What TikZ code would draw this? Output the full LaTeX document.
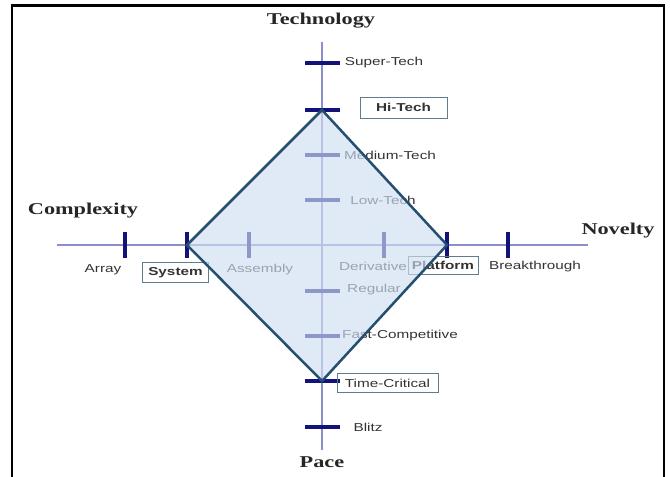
\documentclass[tikz,border=0pt]{standalone}
\usepackage{fontspec}
\setmainfont{Liberation Serif}
\newfontfamily\lblfont{Liberation Sans}
\usetikzlibrary{positioning}
\definecolor{axisLine}{HTML}{8A8ECB}
\definecolor{tickNavy}{HTML}{12127A}
\definecolor{edgeBlue}{HTML}{244F6E}
\definecolor{fillBlue}{RGB}{208,223,242}
\definecolor{txtGray}{HTML}{333333}
\definecolor{boxGray}{HTML}{5E7D8A}
\tikzset{
  axis/.style={axisLine, line width=1.5pt},
  htick/.style={fill=tickNavy, minimum width=3.5pt, minimum height=26pt, inner sep=0pt},
  vtick/.style={fill=tickNavy, minimum width=35pt, minimum height=3.5pt, inner sep=0pt},
  lbl/.style={font=\lblfont\fontsize{11.5}{13}\selectfont, text=txtGray, xscale=1.33, inner sep=1pt},
  lblbox/.style={lbl, draw=boxGray, line width=0.8pt, inner sep=0pt},
  ttl/.style={font=\bfseries\fontsize{16.5}{18}\selectfont, text=black!85, xscale=1.35, inner sep=0pt},
  frame/.style={black, line width=2.6pt},
}
\begin{document}
\begin{tikzpicture}[x=1pt, y=-1pt]
    \useasboundingbox (0,0) rectangle (670,477);
    % frame
    \draw[frame] (12,480) -- (12,5.5) -- (664,5.5) -- (664,480);
    % axes
    \coordinate (axL) at (57,245);   \coordinate (axR) at (588,245);
    \coordinate (axT) at (322,42);   \coordinate (axB) at (322,450);
    \draw[axis] (axL) -- (axR);
    \draw[axis] (axT) -- (axB);
    % ticks, horizontal axis
    \node[htick] (tArray) at (125,245) {};
    \node[htick] (tSystem) at (187,245) {};
    \node[htick] (tAssembly) at (249,245) {};
    \node[htick] (tDerivative) at (384,245) {};
    \node[htick] (tPlatform) at (447,245) {};
    \node[htick] (tBreak) at (508,245) {};
    % ticks, vertical axis
    \node[vtick] (tSuper) at (322,63) {};
    \node[vtick] (tHi) at (322,110) {};
    \node[vtick] (tMedium) at (322,155) {};
    \node[vtick] (tLow) at (322,200) {};
    \node[vtick] (tRegular) at (322,291) {};
    \node[vtick] (tFast) at (322,336) {};
    \node[vtick] (tTime) at (322,381) {};
    \node[vtick] (tBlitz) at (322,427) {};
    % axis titles
    \node[ttl] (technology) at (321,21) {Technology};
    \node[ttl] (complexity) at (83,211) {Complexity};
    \node[ttl] (novelty) at (618,231) {Novelty};
    \node[ttl] (pace) at (322,462) {Pace};
    % labels, horizontal axis
    \node[lbl] (lArray) at (103,270) {Array};
    \node[lblbox, minimum width=49.5pt, minimum height=20pt] (lSystem) at (175.5,272.5) {\bfseries System};
    \node[lbl] (lAssembly) at (260,270) {Assembly};
    \node[lbl] (lDerivative) at (373,266) {Derivative};
    \node[lblbox, minimum width=52.5pt, minimum height=18pt] (lPlatform) at (443,265.5) {\bfseries Platform};
    \node[lbl] (lBreak) at (535,267) {Breakthrough};
    % labels, vertical axis
    \node[lbl] (lSuper) at (384,63) {Super-Tech};
    \node[lblbox, minimum width=65.5pt, minimum height=21pt] (lHi) at (403.5,107.5) {\bfseries Hi-Tech};
    \node[lbl] (lMedium) at (390,155) {Medium-Tech};
    \node[lbl] (lLow) at (383,200) {Low-Tech};
    \node[lbl] (lRegular) at (374,290) {Regular};
    \node[lbl] (lFast) at (400,336) {Fast-Competitive};
    \node[lblbox, minimum width=76pt, minimum height=19pt] (lTime) at (387.5,383) {Time-Critical};
    \node[lbl] (lBlitz) at (368,427) {Blitz};
    % diamond
    \fill[fillBlue, fill opacity=0.65] (tHi.center) -- (tPlatform.center) -- (tTime.center) -- (tSystem.center) -- cycle;
    \draw[edgeBlue, line width=2.5pt] (tHi.center) -- (tPlatform.center) -- (tTime.center) -- (tSystem.center) -- cycle;
\end{tikzpicture}
\end{document}
